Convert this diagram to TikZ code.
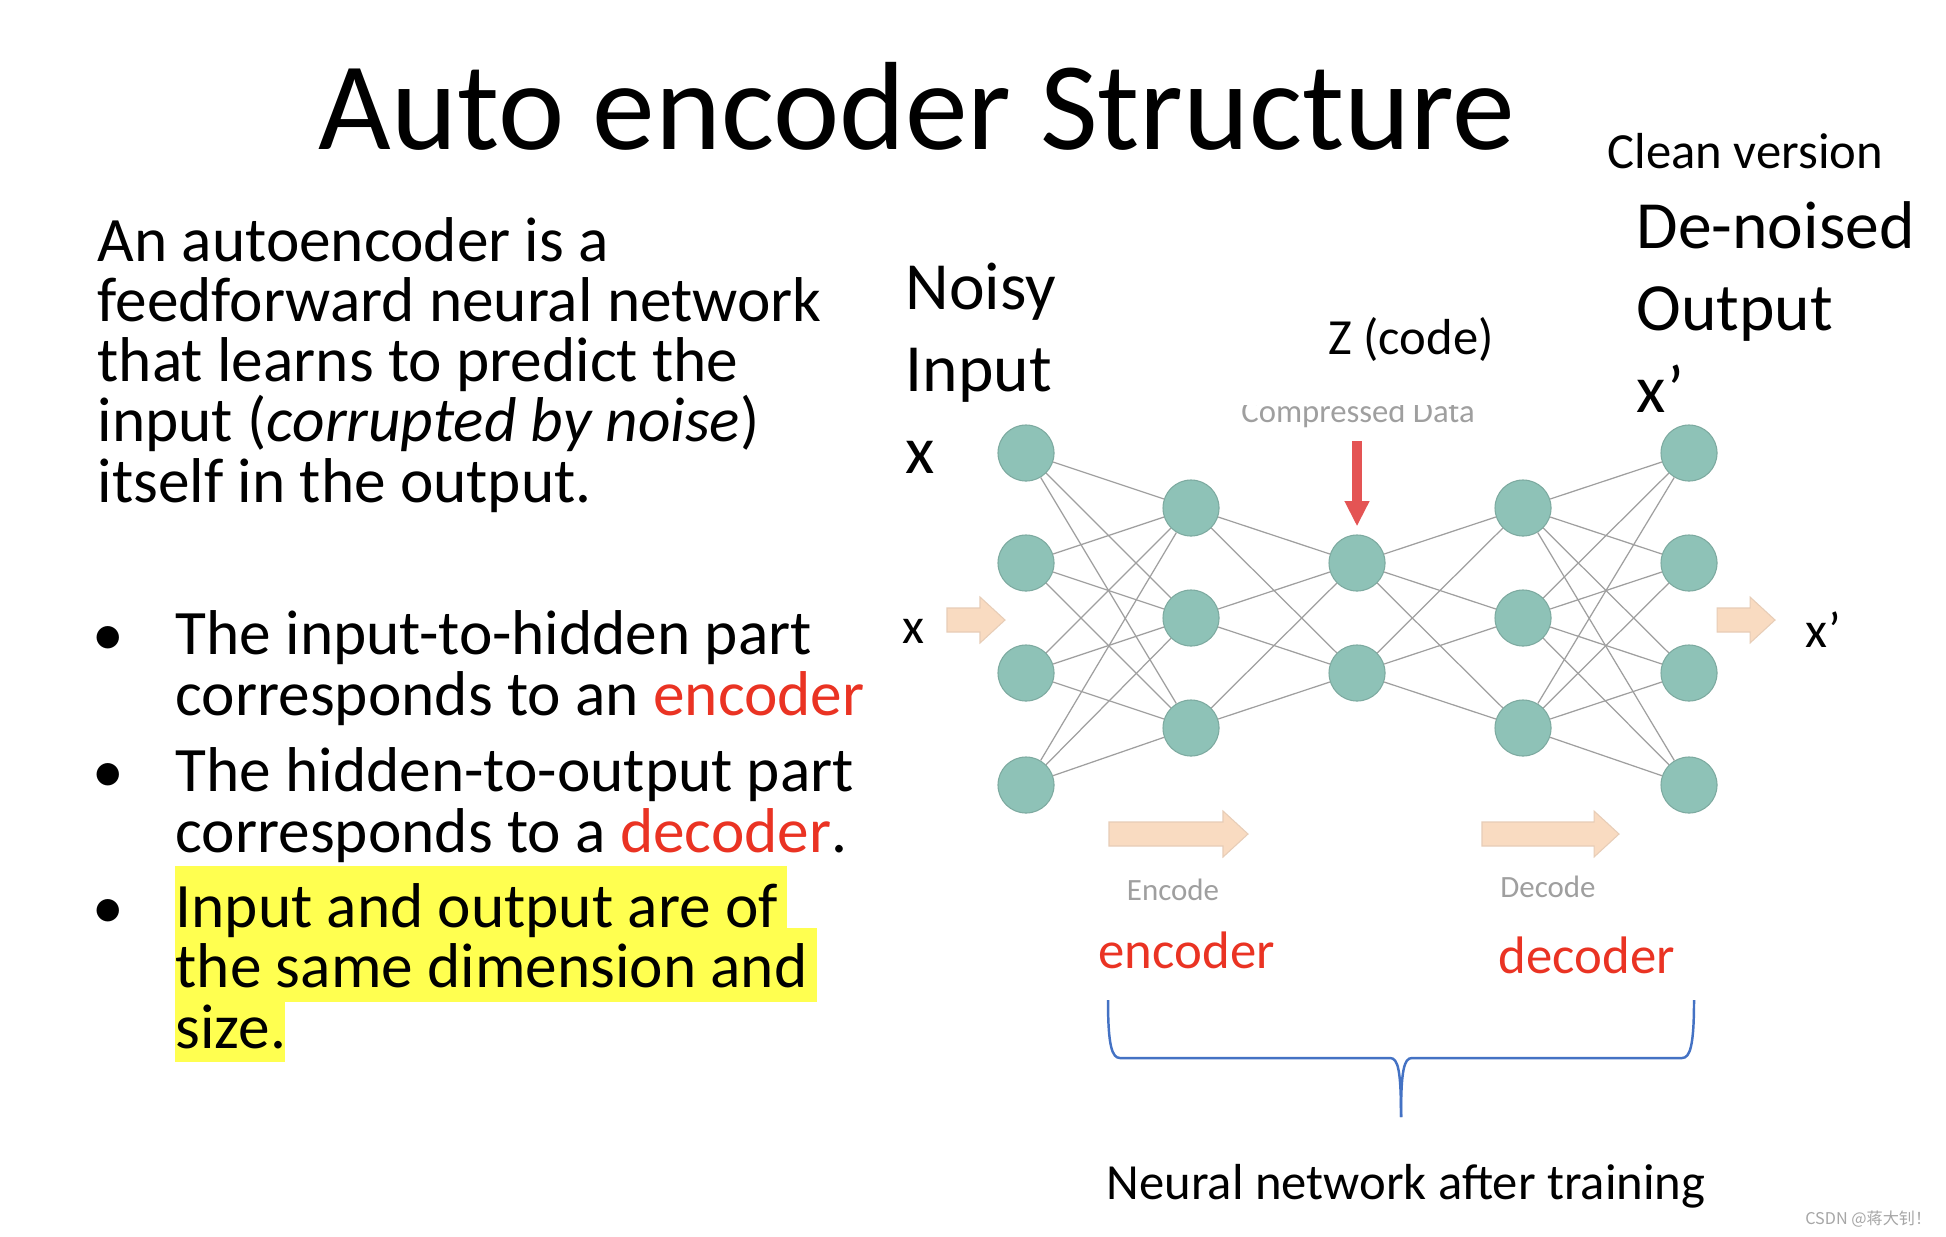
\documentclass[tikz,border=0pt]{standalone}
\usepackage{fontspec}
\setmainfont{Carlito}
\newfontfamily\cjkfont{Noto Sans CJK SC}
\usepackage{xcolor}
\usetikzlibrary{arrows.meta}

\definecolor{neuron}{RGB}{142,194,183}
\definecolor{neuronrim}{RGB}{125,170,160}
\definecolor{peach}{RGB}{249,219,193}
\definecolor{codered}{RGB}{228,84,84}
\definecolor{wordred}{RGB}{234,51,35}
\definecolor{braceblue}{RGB}{68,114,196}
\definecolor{marker}{RGB}{255,255,80}

\tikzset{
  neuron/.style={circle, fill=neuron, draw=neuronrim, line width=0.3pt, minimum size=0.56cm, inner sep=0pt},
  wire/.style={gray!75, line width=0.35pt},
  fat arrow/.style={fill=peach, draw=peach!85!gray, line width=0.3pt},
  body/.style={font=\fontsize{18}{17.1}\selectfont, inner sep=0pt},
  side/.style={font=\fontsize{19.2}{23.2}\selectfont, inner sep=0pt, align=left},
  small/.style={font=\fontsize{14.4}{16}\selectfont, inner sep=0pt},
  tiny/.style={font=\fontsize{8.8}{10}\selectfont, text=gray!75, inner sep=0pt},
  brace line/.style={braceblue, line width=0.7pt}
}

\begin{document}
\begin{tikzpicture}[x=0.01cm, y=-0.01cm]
\fill[white] (0,0) rectangle (1946,1236);
\useasboundingbox (0,0) rectangle (1946,1236);

\node[font=\fontsize{35.7}{40}\selectfont, anchor=base, inner sep=0pt] (title) at (917,149) {Auto encoder Structure};

% left column text (multi-line nodes sit on their last baseline)
\node[body, anchor=base west, align=left] (intro) at (97,502)
  {An autoencoder is a\\feedforward neural network\\that learns to predict the\\input (\textit{corrupted by noise})\\itself in the output.};

\fill[marker] (175,866) rectangle (787,930);
\fill[marker] (175,928) rectangle (817,1002);
\fill[marker] (175,1000) rectangle (285,1062);

\node[body, anchor=base] (dot1) at (108,655) {\textbullet};
\node[body, anchor=base west, align=left] (item1) at (175,715)
  {The input-to-hidden part\\corresponds to an \textcolor{wordred}{encoder}};
\node[body, anchor=base] (dot2) at (108,792) {\textbullet};
\node[body, anchor=base west, align=left] (item2) at (175,852)
  {The hidden-to-output part\\corresponds to a \textcolor{wordred}{decoder}.};
\node[body, anchor=base] (dot3) at (108,928) {\textbullet};
\node[body, anchor=base west, align=left] (item3) at (175,1048)
  {Input and output are of\\the same dimension and\\size.};

% network
\foreach \y [count=\i] in {453,563,673,785} \node[neuron] (in\i) at (1026,\y) {};
\foreach \y [count=\i] in {508,618,728} \node[neuron] (enc\i) at (1191,\y) {};
\foreach \y [count=\i] in {563,673} \node[neuron] (code\i) at (1357,\y) {};
\foreach \y [count=\i] in {508,618,728} \node[neuron] (dec\i) at (1523,\y) {};
\foreach \y [count=\i] in {453,563,673,785} \node[neuron] (out\i) at (1689,\y) {};

\foreach \i in {1,...,4} \foreach \j in {1,2,3} \draw[wire] (in\i) -- (enc\j);
\foreach \i in {1,2,3} \foreach \j in {1,2} \draw[wire] (enc\i) -- (code\j);
\foreach \i in {1,2} \foreach \j in {1,2,3} \draw[wire] (code\i) -- (dec\j);
\foreach \i in {1,2,3} \foreach \j in {1,...,4} \draw[wire] (dec\i) -- (out\j);

\begin{scope}
\clip (1200,405) rectangle (1520,440);
\node[tiny, font=\fontsize{9.3}{10}\selectfont, anchor=base] (cdata) at (1358,422) {Compressed Data};
\end{scope}
\coordinate (cdtail) at (1357,441);
\draw[codered, line width=2.8pt, -{Triangle[length=7.2pt,width=6.6pt]}] (cdtail) -- ([yshift=2.3pt]code1.north);

\node[small, anchor=base] (zcode) at (1411,354) {Z (code)};
\node[side, anchor=base west] (noisy) at (905,473) {Noisy\\Input\\x};
\node[small, anchor=base west] (clean) at (1607,168) {Clean version};
\node[side, anchor=base west] (denoised) at (1636,412) {De-noised\\Output\\x’};

\foreach \x/\y/\l in {947/620/33, 1717/620/33, 1109/834/114, 1482/834/112}
  \draw[fat arrow] (\x,\y-12) -- ++(\l,0) -- ++(0,-11) -- ++(25,23) -- ++(-25,23) -- ++(0,-11) -- ++(-\l,0) -- cycle;

\node[small, anchor=base west] (xin) at (902,643) {x};
\node[small, anchor=base west] (xout) at (1805,647) {x’};

\node[tiny, anchor=base] (enclbl) at (1173,900) {Encode};
\node[tiny, anchor=base] (declbl) at (1548,897) {Decode};
\node[small, font=\fontsize{15}{16}\selectfont, text=wordred, anchor=base west] (encword) at (1098,968) {encoder};
\node[small, font=\fontsize{15}{16}\selectfont, text=wordred, anchor=base west] (decword) at (1498,973) {decoder};

% brace
\draw[brace line] (1108,1000) .. controls (1108,1046) and (1112,1058) .. (1120,1058) -- (1390,1058)
  .. controls (1398,1058) and (1401,1070) .. (1401,1117);
\draw[brace line] (1694,1000) .. controls (1694,1046) and (1690,1058) .. (1682,1058) -- (1412,1058)
  .. controls (1404,1058) and (1401,1070) .. (1401,1117);

\node[small, anchor=base] (trained) at (1406,1199) {Neural network after training};
\node[font=\cjkfont\fontsize{4.6}{5}\selectfont, text=gray!70, anchor=base east, inner sep=0pt] (mark) at (1932,1224) {CSDN @蒋大钊！};
\end{tikzpicture}
\end{document}
